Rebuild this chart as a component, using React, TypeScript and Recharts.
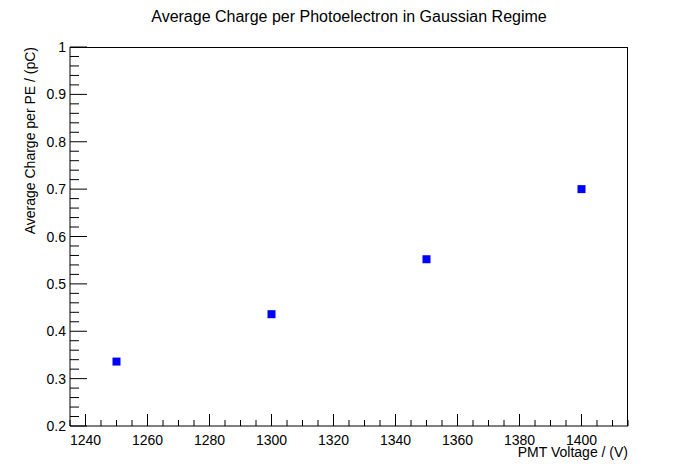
import { ScatterChart, Scatter, XAxis, YAxis } from "recharts";

const voltages = [1250, 1300, 1350, 1400];
const chargePerPE = [0.336, 0.436, 0.552, 0.7];

const xMajor = [1240, 1260, 1280, 1300, 1320, 1340, 1360, 1380, 1400];
const xTicks = [1235, 1240, 1245, 1250, 1255, 1260, 1265, 1270, 1275, 1280, 1285, 1290, 1295, 1300, 1305, 1310, 1315, 1320, 1325, 1330, 1335, 1340, 1345, 1350, 1355, 1360, 1365, 1370, 1375, 1380, 1385, 1390, 1395, 1400, 1405, 1410, 1415];
const yMajor = ["0.2", "0.3", "0.4", "0.5", "0.6", "0.7", "0.8", "0.9", "1"];
const yTicks = [0.2, 0.22, 0.24, 0.26, 0.28, 0.3, 0.32, 0.34, 0.36, 0.38, 0.4, 0.42, 0.44, 0.46, 0.48, 0.5, 0.52, 0.54, 0.56, 0.58, 0.6, 0.62, 0.64, 0.66, 0.68, 0.7, 0.72, 0.74, 0.76, 0.78, 0.8, 0.82, 0.84, 0.86, 0.88, 0.9, 0.92, 0.94, 0.96, 0.98, 1];

const data = voltages.map((v, i) => ({ x: v, y: chargePerPE[i] }));
const font = "'Liberation Sans', Arial, sans-serif";

function XTick({ x, y, payload }: any) {
  const major = xMajor.includes(payload.value);
  return (
    <g>
      <line x1={x} x2={x} y1={y} y2={y - (major ? 12 : 6)} stroke="#000" />
      {major && (
        <text x={x} y={y + 19} textAnchor="middle" fontSize={14} fontFamily={font} fill="#000">
          {payload.value}
        </text>
      )}
    </g>
  );
}

function YTick({ x, y, payload }: any) {
  const label = String(Math.round(payload.value * 100) / 100);
  const major = yMajor.includes(label);
  return (
    <g>
      <line x1={x} x2={x + (major ? 17 : 9)} y1={y} y2={y} stroke="#000" />
      {major && (
        <text x={x - 4} y={y + 5} textAnchor="end" fontSize={14} fontFamily={font} fill="#000">
          {label}
        </text>
      )}
    </g>
  );
}

function Square({ cx, cy }: any) {
  return <rect x={cx - 4} y={cy - 4} width={8} height={8} fill="#0000ff" />;
}

export default function App() {
  return (
    <div style={{ position: "absolute", left: 0, top: 0, width: 698, height: 473, background: "#fff" }}>
      <ScatterChart width={698} height={473} margin={{ top: 47, right: 70, bottom: 0, left: 0 }}>
        <XAxis type="number" dataKey="x" domain={[1235, 1415]} ticks={xTicks} interval={0}
          allowDataOverflow height={47} tickSize={0} tickMargin={0} tick={<XTick />} axisLine={{ stroke: "#000" }} tickLine={false} />
        <YAxis type="number" dataKey="y" domain={[0.2, 1]} ticks={yTicks} interval={0}
          allowDataOverflow width={70} tickSize={0} tickMargin={0} tick={<YTick />} axisLine={{ stroke: "#000" }} tickLine={false} />
        <Scatter data={data} shape={<Square />} isAnimationActive={false} />
      </ScatterChart>
      <div style={{ position: "absolute", left: 70, top: 47, width: 558, height: 379, boxSizing: "border-box",
        borderTop: "1px solid #000", borderRight: "1px solid #000", pointerEvents: "none" }} />
      <div style={{ position: "absolute", left: 0, width: 698, top: 8, textAlign: "center", fontFamily: font, fontSize: 16 }}>
        Average Charge per Photoelectron in Gaussian Regime
      </div>
      <div style={{ position: "absolute", right: 70, top: 444, fontFamily: font, fontSize: 14, background: "transparent" }}>
        PMT Voltage / (V)
      </div>
      <div style={{ position: "absolute", left: 22, top: 47, fontFamily: font, fontSize: 14, whiteSpace: "nowrap",
        transform: "translateX(-100%) rotate(-90deg)", transformOrigin: "right top" }}>
        Average Charge per PE / (pC)
      </div>
    </div>
  );
}
